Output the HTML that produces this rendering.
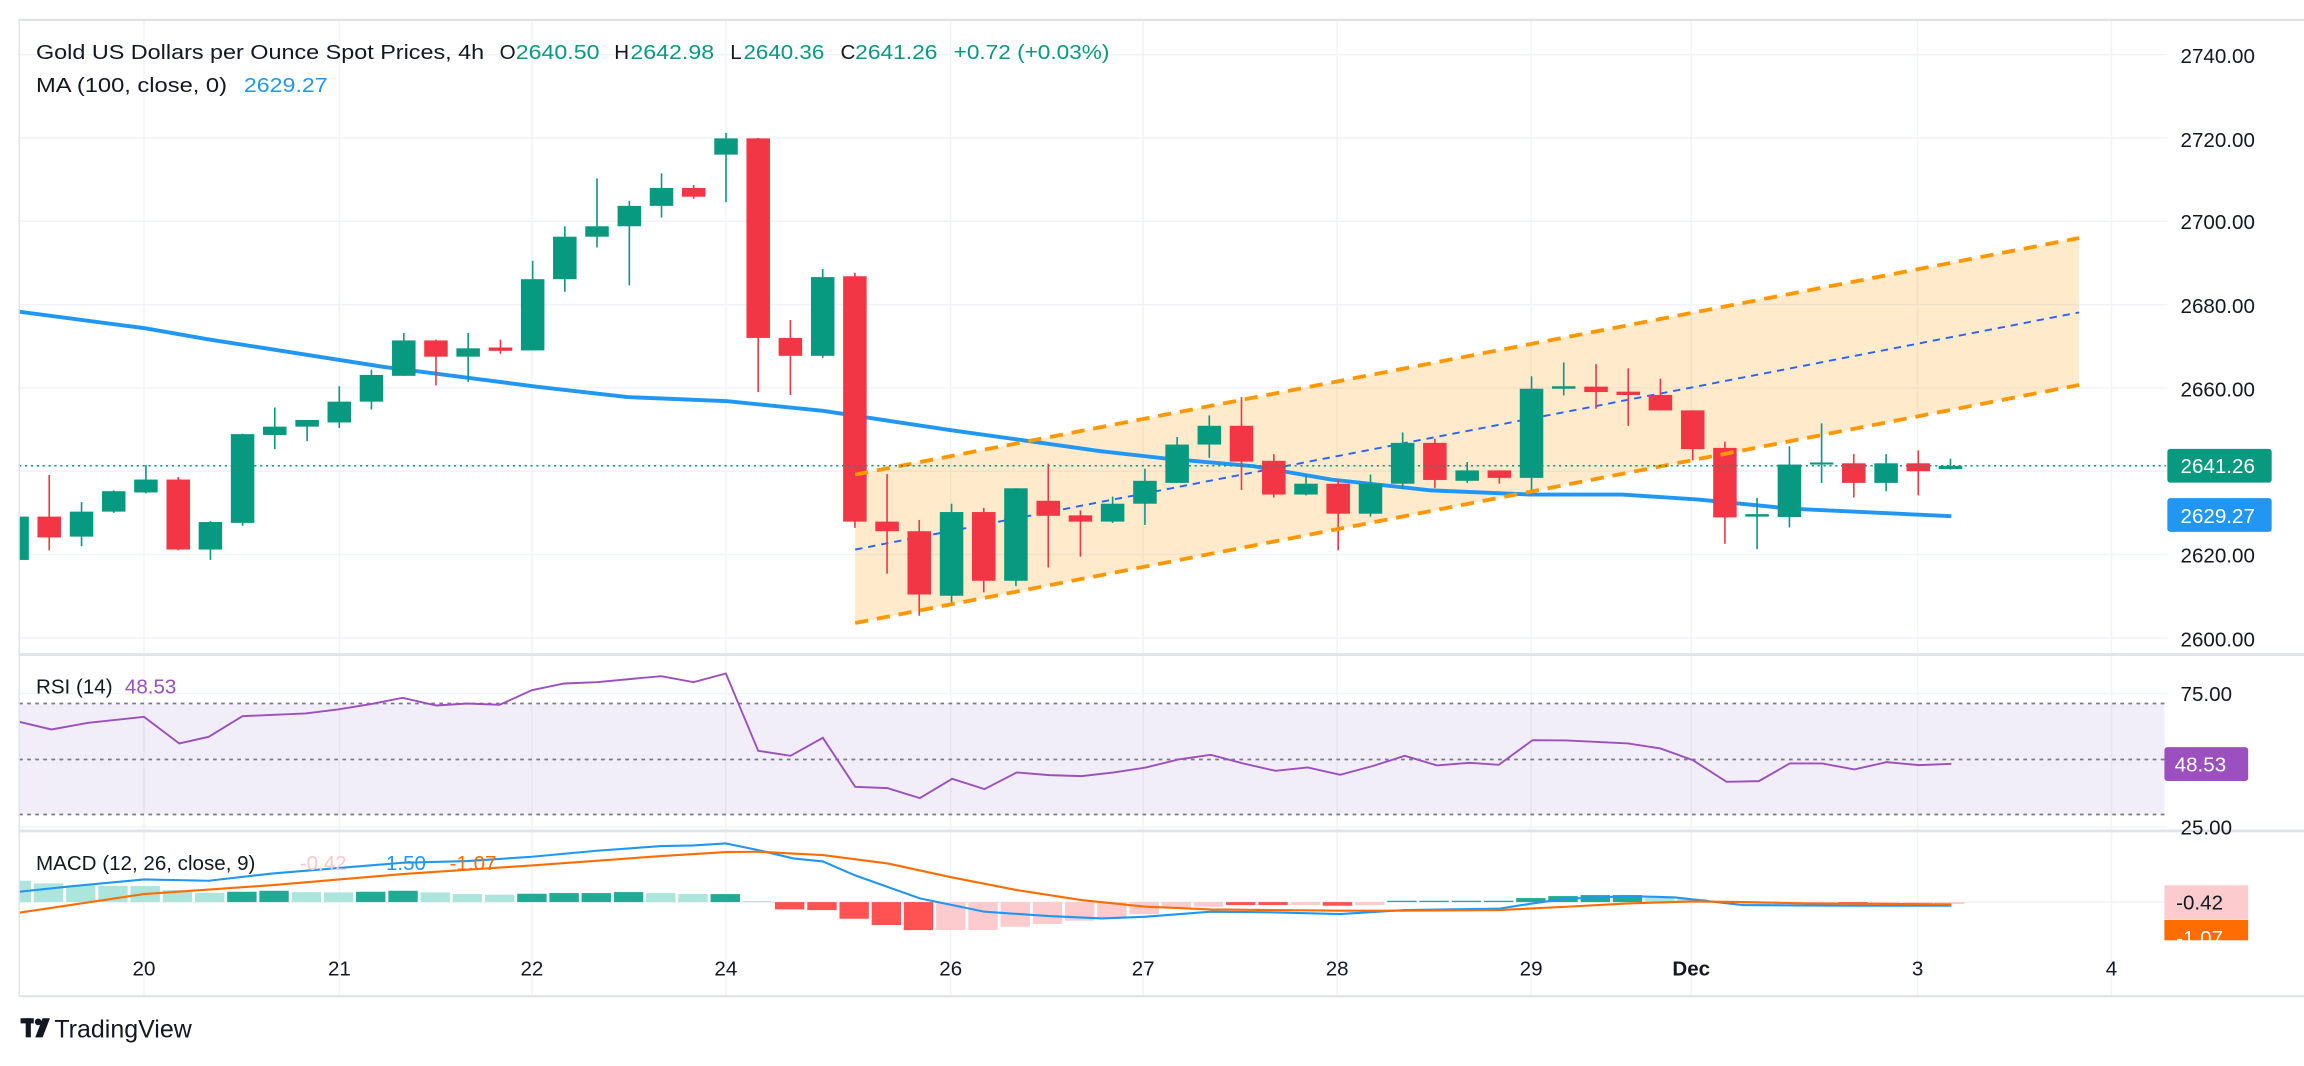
<!DOCTYPE html>
<html><head><meta charset="utf-8">
<style>
html,body{margin:0;padding:0;background:#fff;}
svg{display:block;}
text{font-family:"Liberation Sans",sans-serif;}
</style></head>
<body>
<svg width="2304" height="1066" viewBox="0 0 1568 725.5" preserveAspectRatio="none" xmlns="http://www.w3.org/2000/svg">
<defs><clipPath id="cp"><rect x="13" y="13" width="1461" height="665"/></clipPath></defs>
<rect x="0" y="0" width="1568" height="725.5" fill="#fff"/>
<!-- grid -->
<g stroke="#f0f3fa" stroke-width="1">
<line x1="13" x2="1475" y1="37.2" y2="37.2"/><line x1="13" x2="1475" y1="93.9" y2="93.9"/>
<line x1="13" x2="1475" y1="150.6" y2="150.6"/><line x1="13" x2="1475" y1="207.3" y2="207.3"/>
<line x1="13" x2="1475" y1="264" y2="264"/><line x1="13" x2="1475" y1="320.7" y2="320.7"/>
<line x1="13" x2="1475" y1="377.4" y2="377.4"/><line x1="13" x2="1475" y1="434.1" y2="434.1"/>
<line x1="13" x2="1475" y1="472" y2="472"/><line x1="13" x2="1475" y1="563" y2="563"/>
<line x1="13" x2="1475" y1="614" y2="614"/>
<line x1="98" x2="98" y1="13" y2="678"/><line x1="231" x2="231" y1="13" y2="678"/>
<line x1="362" x2="362" y1="13" y2="678"/><line x1="494" x2="494" y1="13" y2="678"/>
<line x1="647" x2="647" y1="13" y2="678"/><line x1="778" x2="778" y1="13" y2="678"/>
<line x1="910" x2="910" y1="13" y2="678"/><line x1="1042" x2="1042" y1="13" y2="678"/>
<line x1="1151" x2="1151" y1="13" y2="678"/><line x1="1305" x2="1305" y1="13" y2="678"/>
<line x1="1437" x2="1437" y1="13" y2="678"/>
</g>

<g clip-path="url(#cp)">
<!-- channel fill -->
<polygon points="582,323 1415,162 1415,262 582,424" fill="rgba(255,152,0,0.2)"/>

<!-- price-space group -->
<g transform="translate(0,37.2) scale(1,-2.835) translate(0,-2740)">
<polyline vector-effect="non-scaling-stroke" fill="none" stroke="#2196f3" stroke-width="3.9" stroke-linejoin="round" points="13,2678.3 99,2674.3 141,2671.7 260,2665.1 365,2660.3 427,2657.8 495,2656.8 560,2654.5 646,2649.9 703,2647.1 749,2644.8 792,2643.1 853,2641.2 906,2638 974,2635.4 1041,2634.4 1104,2634.4 1156,2633.2 1219,2631 1328,2629.2"/>
</g>
<line x1="582" y1="374" x2="1415" y2="212.6" stroke="#2962ff" stroke-width="1.3" stroke-dasharray="5,4"/>

<g transform="translate(0,37.2) scale(1,-2.835) translate(0,-2740)">
<g stroke="#089981" stroke-width="1.1">
<line x1="11.6" x2="11.6" y1="2617" y2="2629.1"/><line x1="55.5" x2="55.5" y1="2622" y2="2632.6"/>
<line x1="77.4" x2="77.4" y1="2630" y2="2635.4"/><line x1="99.3" x2="99.3" y1="2634.7" y2="2641.5"/>
<line x1="143.2" x2="143.2" y1="2618.7" y2="2628"/><line x1="165.1" x2="165.1" y1="2626.9" y2="2649"/>
<line x1="187" x2="187" y1="2645.3" y2="2655.3"/><line x1="209" x2="209" y1="2647.2" y2="2652.3"/>
<line x1="230.9" x2="230.9" y1="2650.4" y2="2660.4"/><line x1="252.8" x2="252.8" y1="2654.8" y2="2664.4"/>
<line x1="274.8" x2="274.8" y1="2662.9" y2="2673.2"/><line x1="318.6" x2="318.6" y1="2661.4" y2="2673.2"/>
<line x1="362.5" x2="362.5" y1="2669" y2="2690.5"/><line x1="384.4" x2="384.4" y1="2683.1" y2="2698.8"/>
<line x1="406.3" x2="406.3" y1="2693.7" y2="2710.3"/><line x1="428.3" x2="428.3" y1="2684.6" y2="2704.9"/>
<line x1="450.2" x2="450.2" y1="2700.9" y2="2711.5"/><line x1="494.1" x2="494.1" y1="2704.6" y2="2721.2"/>
<line x1="559.9" x2="559.9" y1="2667.2" y2="2688.5"/><line x1="647.6" x2="647.6" y1="2608.4" y2="2632.2"/>
<line x1="691.4" x2="691.4" y1="2612.4" y2="2635.9"/><line x1="757.2" x2="757.2" y1="2627.6" y2="2633.9"/>
<line x1="779.2" x2="779.2" y1="2627.1" y2="2640.6"/><line x1="801.1" x2="801.1" y1="2637.2" y2="2648.2"/>
<line x1="823" x2="823" y1="2643.2" y2="2653.4"/><line x1="888.8" x2="888.8" y1="2634.2" y2="2639"/>
<line x1="932.7" x2="932.7" y1="2629.1" y2="2639.2"/><line x1="954.6" x2="954.6" y1="2635.7" y2="2649.3"/>
<line x1="998.5" x2="998.5" y1="2637.2" y2="2642.2"/><line x1="1042.3" x2="1042.3" y1="2634.6" y2="2662.8"/>
<line x1="1064.2" x2="1064.2" y1="2658.2" y2="2666.1"/><line x1="1195.8" x2="1195.8" y1="2621.3" y2="2633.6"/>
<line x1="1217.8" x2="1217.8" y1="2626.5" y2="2646"/><line x1="1239.7" x2="1239.7" y1="2637.2" y2="2651.5"/>
<line x1="1283.6" x2="1283.6" y1="2635.2" y2="2644.1"/><line x1="1327.4" x2="1327.4" y1="2640.4" y2="2643"/>
</g>
<g fill="#089981">
<rect x="3.6" y="2618.7" width="16" height="10.4"/><rect x="47.5" y="2624.3" width="16" height="6"/>
<rect x="69.4" y="2630.3" width="16" height="4.9"/><rect x="91.3" y="2634.9" width="16" height="3.1"/>
<rect x="135.2" y="2621.2" width="16" height="6.6"/><rect x="157.1" y="2627.6" width="16" height="21.3"/>
<rect x="179" y="2648.7" width="16" height="2"/><rect x="201" y="2650.7" width="16" height="1.6"/>
<rect x="222.9" y="2651.7" width="16" height="5"/><rect x="244.8" y="2656.7" width="16" height="6.4"/>
<rect x="266.8" y="2662.9" width="16" height="8.5"/><rect x="310.6" y="2667.5" width="16" height="2"/>
<rect x="354.5" y="2669" width="16" height="17.1"/><rect x="376.4" y="2686.1" width="16" height="10.2"/>
<rect x="398.3" y="2696.3" width="16" height="2.5"/><rect x="420.3" y="2698.8" width="16" height="4.9"/>
<rect x="442.2" y="2703.7" width="16" height="4.3"/><rect x="486.1" y="2716" width="16" height="3.9"/>
<rect x="551.9" y="2667.7" width="16" height="18.9"/><rect x="639.6" y="2610.1" width="16" height="20.1"/>
<rect x="683.4" y="2613.7" width="16" height="22.2"/><rect x="749.2" y="2627.9" width="16" height="4.3"/>
<rect x="771.2" y="2632.2" width="16" height="5.5"/><rect x="793.1" y="2637.2" width="16" height="9.2"/>
<rect x="815" y="2646.4" width="16" height="4.5"/><rect x="880.8" y="2634.4" width="16" height="2.6"/>
<rect x="924.7" y="2629.8" width="16" height="7.2"/><rect x="946.6" y="2637" width="16" height="9.8"/>
<rect x="990.5" y="2637.7" width="16" height="2.5"/><rect x="1034.3" y="2638.4" width="16" height="21.4"/>
<rect x="1056.2" y="2659.8" width="16" height="0.6"/><rect x="1187.8" y="2629.1" width="16" height="0.6"/>
<rect x="1209.8" y="2629" width="16" height="12.6"/><rect x="1231.7" y="2641.6" width="16" height="0.5"/>
<rect x="1275.6" y="2637.2" width="16" height="4.7"/><rect x="1319.4" y="2640.5" width="16" height="0.8"/>
</g>
<g stroke="#f23645" stroke-width="1.1">
<line x1="33.5" x2="33.5" y1="2621" y2="2639.1"/><line x1="121.3" x2="121.3" y1="2621" y2="2638.6"/>
<line x1="296.7" x2="296.7" y1="2660.6" y2="2671.6"/><line x1="340.6" x2="340.6" y1="2668.2" y2="2671.6"/>
<line x1="472.1" x2="472.1" y1="2705.4" y2="2708.7"/><line x1="516" x2="516" y1="2659" y2="2720"/>
<line x1="537.9" x2="537.9" y1="2658.3" y2="2676.3"/><line x1="581.8" x2="581.8" y1="2626.4" y2="2687.6"/>
<line x1="603.7" x2="603.7" y1="2615.4" y2="2639.3"/><line x1="625.6" x2="625.6" y1="2605.3" y2="2628.3"/>
<line x1="669.5" x2="669.5" y1="2610.9" y2="2631.2"/><line x1="713.4" x2="713.4" y1="2616.9" y2="2641.8"/>
<line x1="735.3" x2="735.3" y1="2619.5" y2="2630.6"/><line x1="844.9" x2="844.9" y1="2635.5" y2="2657.8"/>
<line x1="866.9" x2="866.9" y1="2633.7" y2="2644.1"/><line x1="910.7" x2="910.7" y1="2621" y2="2638"/>
<line x1="976.5" x2="976.5" y1="2636" y2="2647.8"/><line x1="1020.4" x2="1020.4" y1="2637" y2="2640.2"/>
<line x1="1086.2" x2="1086.2" y1="2655" y2="2665.7"/><line x1="1108.1" x2="1108.1" y1="2650.9" y2="2664.7"/>
<line x1="1130" x2="1130" y1="2654.6" y2="2662.2"/><line x1="1152" x2="1152" y1="2642.6" y2="2654.6"/>
<line x1="1173.9" x2="1173.9" y1="2622.6" y2="2647.1"/><line x1="1261.6" x2="1261.6" y1="2633.7" y2="2644.1"/>
<line x1="1305.5" x2="1305.5" y1="2634.2" y2="2645"/>
</g>
<g fill="#f23645">
<rect x="25.5" y="2624.1" width="16" height="5"/><rect x="113.3" y="2621.2" width="16" height="16.8"/>
<rect x="288.7" y="2667.5" width="16" height="3.9"/><rect x="332.6" y="2668.9" width="16" height="0.8"/>
<rect x="464.1" y="2705.9" width="16" height="2.1"/><rect x="508" y="2672" width="16" height="47.9"/>
<rect x="529.9" y="2667.7" width="16" height="4.3"/><rect x="573.8" y="2627.9" width="16" height="58.9"/>
<rect x="595.7" y="2625.6" width="16" height="2.3"/><rect x="617.6" y="2610.4" width="16" height="15.2"/>
<rect x="661.5" y="2613.7" width="16" height="16.5"/><rect x="705.4" y="2629.3" width="16" height="3.6"/>
<rect x="727.3" y="2627.9" width="16" height="1.5"/><rect x="836.9" y="2642.3" width="16" height="8.6"/>
<rect x="858.9" y="2634.4" width="16" height="8.1"/><rect x="902.7" y="2629.8" width="16" height="7.2"/>
<rect x="968.5" y="2637.9" width="16" height="8.9"/><rect x="1012.4" y="2638.4" width="16" height="1.8"/>
<rect x="1078.2" y="2659" width="16" height="1.3"/><rect x="1100.1" y="2658.3" width="16" height="0.8"/>
<rect x="1122" y="2654.6" width="16" height="3.7"/><rect x="1144" y="2645.3" width="16" height="9.3"/>
<rect x="1165.9" y="2628.9" width="16" height="16.7"/><rect x="1253.6" y="2637.2" width="16" height="4.7"/>
<rect x="1297.5" y="2640" width="16" height="1.9"/>
</g>
</g>

<!-- channel borders -->
<line x1="582" y1="323" x2="1415" y2="162" stroke="#ff9800" stroke-width="2.6" stroke-dasharray="9,6"/>
<line x1="582" y1="424" x2="1415" y2="262" stroke="#ff9800" stroke-width="2.6" stroke-dasharray="9,6"/>
<!-- current price line -->
<line x1="13" x2="1475" y1="317" y2="317" stroke="#089981" stroke-width="1" stroke-dasharray="1.5,2.5"/>

<!-- RSI -->
<rect x="13" y="478.8" width="1460" height="75.5" fill="rgba(126,87,194,0.1)"/>
<g stroke="#787b86" stroke-width="1.2" stroke-dasharray="2.5,3">
<line x1="13" x2="1473" y1="478.8" y2="478.8"/><line x1="13" x2="1473" y1="516.9" y2="516.9"/><line x1="13" x2="1473" y1="554.3" y2="554.3"/>
</g>
<g transform="translate(0,435.7) scale(1,0.22676)">
<polyline vector-effect="non-scaling-stroke" fill="none" stroke="#9c4fbf" stroke-width="1.9" points="13,245 35,268 60,248 98,230 122,310 142,290 165,228 208,220 230,208 252,192 274,173 297,196 318,190 340,194 362,150 384,130 406,126 450,108 472,126 494,100 516,332 538,347 560,293 582,440 604,444 626,474 648,416 670,447 692,397 714,405 736,408 758,397 780,382 802,358 824,344 846,370 868,392 890,382 912,404 934,378 956,347 978,376 1000,368 1020,374 1043,300 1066,301 1108,310 1130,325 1152,360 1175,425 1197,423 1218,370 1240,370 1262,388 1284,366 1306,375 1328,371"/>

<!-- MACD histogram -->
<g fill="#ace5dc">
<rect x="1.1" y="722" width="20" height="64"/><rect x="23" y="730" width="20" height="56"/>
<rect x="45" y="736" width="20" height="50"/><rect x="66.9" y="737" width="20" height="49"/>
<rect x="88.8" y="738" width="20" height="48"/><rect x="110.8" y="750" width="20" height="36"/>
<rect x="132.7" y="758" width="20" height="28"/><rect x="198.5" y="756" width="20" height="30"/>
<rect x="220.4" y="757" width="20" height="29"/><rect x="286.2" y="757" width="20" height="29"/>
<rect x="308.1" y="762" width="20" height="24"/><rect x="330.1" y="764" width="20" height="22"/>
<rect x="439.7" y="759" width="20" height="27"/><rect x="461.6" y="762" width="20" height="24"/>
<rect x="505.5" y="783" width="20" height="3"/><rect x="1119.5" y="770" width="20" height="16"/>
<rect x="1141.5" y="776" width="20" height="10"/><rect x="1163.4" y="783" width="20" height="3"/>
</g>
<g fill="#22ab94">
<rect x="154.6" y="755" width="20" height="31"/><rect x="176.5" y="752" width="20" height="34"/>
<rect x="242.3" y="755" width="20" height="31"/><rect x="264.3" y="752" width="20" height="34"/>
<rect x="352" y="761" width="20" height="25"/><rect x="373.9" y="759" width="20" height="27"/>
<rect x="395.8" y="759" width="20" height="27"/><rect x="417.8" y="756" width="20" height="30"/>
<rect x="483.6" y="762" width="20" height="24"/><rect x="944.1" y="782" width="20" height="4"/>
<rect x="966" y="782" width="20" height="4"/><rect x="988" y="782" width="20" height="4"/>
<rect x="1009.9" y="782" width="20" height="4"/><rect x="1031.8" y="774" width="20" height="12"/>
<rect x="1053.7" y="768" width="20" height="18"/><rect x="1075.7" y="765" width="20" height="21"/>
<rect x="1097.6" y="765" width="20" height="21"/>
</g>
<g fill="#ff5252">
<rect x="527.4" y="786" width="20" height="22"/><rect x="549.4" y="786" width="20" height="24"/>
<rect x="571.3" y="786" width="20" height="50"/><rect x="593.2" y="786" width="20" height="69"/>
<rect x="615.1" y="786" width="20" height="84"/><rect x="834.4" y="786" width="20" height="9"/>
<rect x="856.4" y="786" width="20" height="9"/><rect x="900.2" y="786" width="20" height="11"/>
<rect x="1251.1" y="786" width="20" height="4"/>
</g>
<g fill="#fccbcd">
<rect x="637.1" y="786" width="20" height="84"/><rect x="659" y="786" width="20" height="84"/>
<rect x="680.9" y="786" width="20" height="74"/><rect x="702.9" y="786" width="20" height="66"/>
<rect x="724.8" y="786" width="20" height="56"/><rect x="746.7" y="786" width="20" height="46"/>
<rect x="768.7" y="786" width="20" height="36"/><rect x="790.6" y="786" width="20" height="16"/>
<rect x="812.5" y="786" width="20" height="14"/><rect x="878.3" y="786" width="20" height="9"/>
<rect x="922.2" y="786" width="20" height="9"/><rect x="1185.3" y="786" width="20" height="7"/>
<rect x="1207.3" y="786" width="20" height="7"/><rect x="1229.2" y="786" width="20" height="4"/>
<rect x="1273.1" y="786" width="20" height="6"/><rect x="1295" y="786" width="20" height="6"/>
<rect x="1316.9" y="786" width="20" height="6"/>
</g>
<polyline vector-effect="non-scaling-stroke" fill="none" stroke="#2196f3" stroke-width="2.1" points="13,755 50,738 98,718 142,722 186,700 230,684 274,668 318,663 362,650 406,632 450,618 472,616 494,610 516,630 540,655 560,664 582,706 626,775 670,815 714,828 750,835 780,830 824,815 868,817 912,822 956,810 1020,806 1043,790 1066,776 1108,768 1140,772 1162,783 1186,795 1220,796 1260,797 1328,797"/>
<polyline vector-effect="non-scaling-stroke" fill="none" stroke="#ff6d00" stroke-width="2.1" points="13,818 98,762 186,735 274,702 362,676 450,648 494,636 516,635 560,645 604,670 648,712 692,750 736,780 780,800 824,808 868,810 912,812 956,812 1020,810 1066,800 1108,790 1152,784 1186,786 1230,790 1328,793"/>
</g>
</g>

<!-- pane separators / borders -->
<line x1="13" y1="13.5" x2="1568" y2="13.5" stroke="#e0e3eb" stroke-width="1.5"/>
<line x1="13" y1="445.5" x2="1568" y2="445.5" stroke="#e0e3eb" stroke-width="2"/>
<line x1="13" y1="565.5" x2="1568" y2="565.5" stroke="#e0e3eb" stroke-width="2"/>
<line x1="13" y1="678" x2="1568" y2="678" stroke="#e0e3eb" stroke-width="1.5"/>
<line x1="13" y1="13" x2="13" y2="678" stroke="#e0e3eb" stroke-width="1"/>

<!-- header -->
<g font-size="14" fill="#131722">
<text x="24.5" y="40" textLength="305" lengthAdjust="spacingAndGlyphs">Gold US Dollars per Ounce Spot Prices, 4h</text>
<text x="340" y="40">O</text><text x="351" y="40" fill="#089981" textLength="57" lengthAdjust="spacingAndGlyphs">2640.50</text>
<text x="418" y="40">H</text><text x="429" y="40" fill="#089981" textLength="57" lengthAdjust="spacingAndGlyphs">2642.98</text>
<text x="497" y="40">L</text><text x="506" y="40" fill="#089981" textLength="55" lengthAdjust="spacingAndGlyphs">2640.36</text>
<text x="572" y="40">C</text><text x="582" y="40" fill="#089981" textLength="56" lengthAdjust="spacingAndGlyphs">2641.26</text>
<text x="649" y="40" fill="#089981" textLength="106" lengthAdjust="spacingAndGlyphs">+0.72 (+0.03%)</text>
<text x="24.5" y="62.5" textLength="130" lengthAdjust="spacingAndGlyphs">MA (100, close, 0)</text>
<text x="166" y="62.5" fill="#2196f3" textLength="57" lengthAdjust="spacingAndGlyphs">2629.27</text>
</g>

<!-- price axis -->
<g font-size="14" fill="#131722">
<text x="1484" y="43">2740.00</text>
<text x="1484" y="100">2720.00</text>
<text x="1484" y="156">2700.00</text>
<text x="1484" y="213">2680.00</text>
<text x="1484" y="270">2660.00</text>
<text x="1484" y="383">2620.00</text>
<text x="1484" y="440">2600.00</text>
</g>
<rect x="1475" y="305.5" width="71" height="23" rx="2" fill="#089981"/>
<text x="1484" y="322" font-size="14" fill="#fff">2641.26</text>
<rect x="1475" y="339" width="71" height="23" rx="2" fill="#2196f3"/>
<text x="1484" y="356" font-size="14" fill="#fff">2629.27</text>

<!-- RSI labels -->
<text x="24.5" y="472" font-size="14" fill="#131722">RSI (14)</text>
<text x="85" y="472" font-size="14" fill="#9c4fbf">48.53</text>
<text x="1484" y="477" font-size="14" fill="#131722">75.00</text>
<text x="1484" y="568" font-size="14" fill="#131722">25.00</text>
<rect x="1473" y="508.5" width="57" height="23" rx="2" fill="#9c4fbf"/>
<text x="1480" y="525" font-size="14" fill="#fff">48.53</text>

<!-- MACD labels -->
<g font-size="14">
<text x="24.5" y="592" fill="#131722">MACD (12, 26, close, 9)</text>
<text x="204" y="592" fill="#f8c8cc">-0.42</text>
<text x="258" y="592" fill="#2196f3">-1.50</text>
<text x="306" y="592" fill="#ff6d00">-1.07</text>
</g>
<rect x="1473" y="602.5" width="57" height="23" fill="#fccbcd"/>
<text x="1481" y="619" font-size="14" fill="#131722">-0.42</text>
<rect x="1473" y="626" width="57" height="14" fill="#ff6d00"/>
<text x="1481" y="643" font-size="14" fill="#fff">-1.07</text>
<rect x="1473" y="640" width="95" height="37" fill="#fff"/>

<!-- date axis -->
<g font-size="14" fill="#131722" text-anchor="middle">
<text x="98" y="664">20</text><text x="231" y="664">21</text><text x="362" y="664">22</text>
<text x="494" y="664">24</text><text x="647" y="664">26</text><text x="778" y="664">27</text>
<text x="910" y="664">28</text><text x="1042" y="664">29</text><text x="1151" y="664" font-weight="bold">Dec</text>
<text x="1305" y="664">3</text><text x="1437" y="664">4</text>
</g>

<!-- footer logo -->
<g fill="#131722">
<rect x="14" y="693" width="9" height="3.5"/>
<rect x="17.5" y="693" width="3.5" height="13"/>
<circle cx="26" cy="695.5" r="2.3"/>
<polygon points="29,693 34,693 29,706 24,706"/>
<text x="37" y="706" font-size="17">TradingView</text>
</g>
</svg>
</body></html>
